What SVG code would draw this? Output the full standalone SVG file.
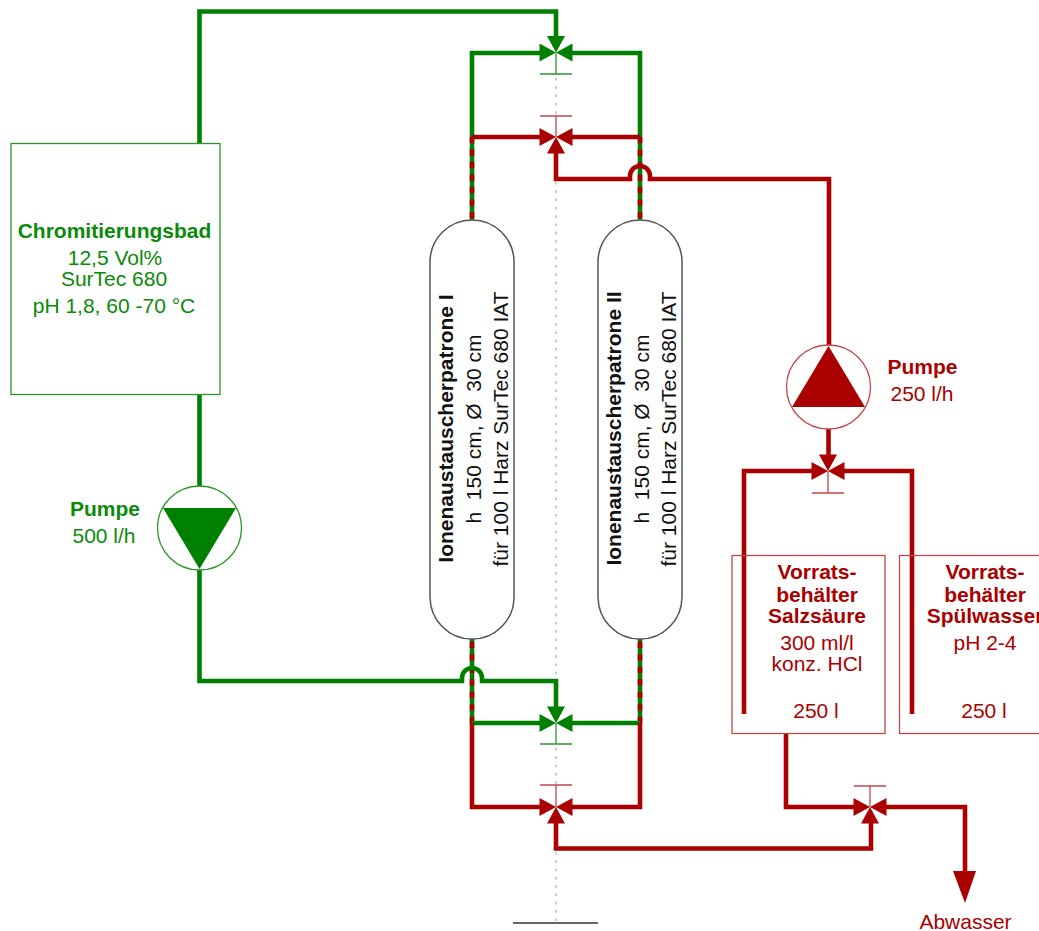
<svg xmlns="http://www.w3.org/2000/svg" width="1039" height="931" viewBox="0 0 1039 931">
<style>
text{font-family:"Liberation Sans",Arial,sans-serif;font-size:21px;text-anchor:middle;white-space:pre}
.b{font-weight:bold}
.tg{fill:#0a8a0a}
.tr{fill:#aa0000}
.tk{fill:#111}
.lg,.lr,.dash{fill:none;stroke-width:4.6;stroke-linejoin:miter}
.lg{stroke:#008000}
.lr,.dash{stroke:#aa0000}
.dash{stroke-dasharray:6.25 6.25}
.fg{fill:#008000}
.fr{fill:#aa0000}
.sg{stroke:#2a962a;stroke-width:1.300;fill:none}
.sr{stroke:#c04848;stroke-width:1.300;fill:none}
.pg{stroke:#2a962a;stroke-width:1.300;fill:#fff}
.pr{stroke:#c04848;stroke-width:1.300;fill:#fff}
.cap{fill:#fff;stroke:#555;stroke-width:1.500}
.axis{stroke:#bbb;stroke-width:1.600;stroke-dasharray:2.600 5.700;fill:none}
</style>
<defs>
<polygon id="tl" points="0,0 -16.500,-9 -16.500,9"/>
<polygon id="tr" points="0,0 16.500,-9 16.500,9"/>
<polygon id="tt" points="0,0 -9,-16.500 9,-16.500"/>
<polygon id="tb" points="0,0 -9,16.500 9,16.500"/>
</defs>
<g id="axis">
<path class="axis" d="M556 78V116M556 182V706M556 748V785M556 852V921"/>
<path d="M513 923H598" stroke="#666" stroke-width="2" fill="none"/>
</g>
<g id="connectors">
<path class="lg" d="M199.500 143V11.500H556V40"/>
<path class="lg" d="M472 137V53H540M640 137V53H572"/>
<path class="lg" d="M472 137V220M640 137V220M472 639V723M640 639V723"/>
<path class="dash" d="M472 137V220M640 137V220M472 723V639M640 723V639"/>
<path class="lr" d="M472 137H540M640 137H572"/>
<path class="lr" d="M829 345V179H650V176A10 10 0 0 0 630 176V179H556V152"/>
<path class="lg" d="M199.500 394V486M199.500 568V681H462V678A10 10 0 0 1 482 678V681H556V710"/>
<path class="lg" d="M472 723H540M640 723H572"/>
<path class="lr" d="M472 723V807H540M640 723V807H572"/>
<path class="lr" d="M556 822V848.500H871V822"/>
<path class="lr" d="M828.500 429V458"/>
<path class="lr" d="M744 714V471H813M912 714V471H843"/>
<path class="lr" d="M786 733V807H855M886 807H965V873"/>
<polygon class="fr" points="953,871 976,871 965,903"/>
</g>
<g id="valve-g1" transform="translate(556,52.500)">
<use href="#tl" class="fg"/><use href="#tr" class="fg"/><use href="#tt" class="fg"/>
<path class="sg" d="M0 0V21.500M-16 21.500H16"/>
</g>
<g id="valve-r1" transform="translate(556,137)">
<use href="#tl" class="fr"/><use href="#tr" class="fr"/><use href="#tb" class="fr"/>
<path class="sr" d="M0 0V-21M-16 -21H16"/>
</g>
<g id="valve-g2" transform="translate(556,723)">
<use href="#tl" class="fg"/><use href="#tr" class="fg"/><use href="#tt" class="fg"/>
<path class="sg" d="M0 0V21M-16 21H16"/>
</g>
<g id="valve-r2" transform="translate(556,807)">
<use href="#tl" class="fr"/><use href="#tr" class="fr"/><use href="#tb" class="fr"/>
<path class="sr" d="M0 0V-22M-16 -22H16"/>
</g>
<g id="valve-r3" transform="translate(870,807)">
<use href="#tl" class="fr"/><use href="#tr" class="fr"/><use href="#tb" class="fr"/>
<path class="sr" d="M0 0V-21M-16 -21H16"/>
</g>
<g id="valve-r4" transform="translate(828,471)">
<use href="#tl" class="fr"/><use href="#tr" class="fr"/><use href="#tt" class="fr"/>
<path class="sr" d="M0 0V22M-16 22H16"/>
</g>
<g id="bad">
<rect class="sg" x="11" y="143.500" width="209" height="251"/>
<text class="b tg" x="114.500" y="238">Chromitierungsbad</text>
<text class="tg" x="115" y="265">12,5 Vol%</text>
<text class="tg" x="114" y="286">SurTec 680</text>
<text class="tg" x="114" y="313">pH 1,8, 60 -70 °C</text>
</g>
<g id="pumpe-g">
<circle class="pg" cx="199.500" cy="528" r="42"/>
<polygon class="fg" points="163,508 236,508 199.500,569"/>
<text class="b tg" x="105" y="516">Pumpe</text>
<text class="tg" x="104" y="543">500 l/h</text>
</g>
<g id="patrone-1">
<rect class="cap" x="430" y="220" width="84" height="419" rx="42" ry="42"/>
<g transform="translate(453,428.500) rotate(-90)"><text class="b tk">Ionenaustauscherpatrone I</text></g>
<g transform="translate(481,429) rotate(-90)"><text class="tk">h  150 cm, Ø  30 cm</text></g>
<g transform="translate(508,429) rotate(-90)"><text class="tk">für 100 l Harz SurTec 680 IAT</text></g>
</g>
<g id="patrone-2">
<rect class="cap" x="598" y="220" width="84" height="419" rx="42" ry="42"/>
<g transform="translate(621,428.500) rotate(-90)"><text class="b tk">Ionenaustauscherpatrone II</text></g>
<g transform="translate(649,429) rotate(-90)"><text class="tk">h  150 cm, Ø  30 cm</text></g>
<g transform="translate(676,429) rotate(-90)"><text class="tk">für 100 l Harz SurTec 680 IAT</text></g>
</g>
<g id="pumpe-r">
<circle class="pr" cx="828.500" cy="387" r="42"/>
<polygon class="fr" points="792,407 865,407 828.500,346"/>
<text class="b tr" x="922.500" y="374">Pumpe</text>
<text class="tr" x="922" y="401">250 l/h</text>
</g>
<g id="tank-salz">
<rect class="sr" x="732" y="555.500" width="153" height="178"/>
<text class="b tr" x="817" y="579">Vorrats-</text>
<text class="b tr" x="817" y="601.500">behälter</text>
<text class="b tr" x="817" y="623">Salzsäure</text>
<text class="tr" x="817" y="650">300 ml/l</text>
<text class="tr" x="817" y="671">konz. HCl</text>
<text class="tr" x="816" y="718">250 l</text>
</g>
<g id="tank-spuel">
<rect class="sr" x="899.500" y="555.500" width="160" height="178"/>
<text class="b tr" x="985" y="579">Vorrats-</text>
<text class="b tr" x="985" y="601.500">behälter</text>
<text class="b tr" x="985" y="623">Spülwasser</text>
<text class="tr" x="985" y="650">pH 2-4</text>
<text class="tr" x="984" y="718">250 l</text>
</g>
<g id="abwasser">
<text class="tr" x="965.500" y="929">Abwasser</text>
</g>
</svg>
